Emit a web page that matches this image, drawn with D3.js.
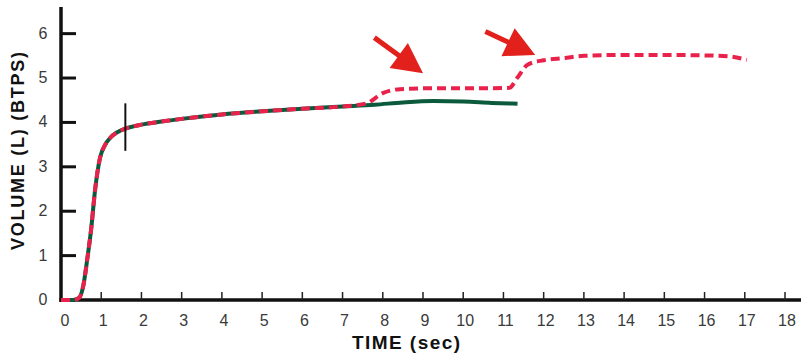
<!DOCTYPE html>
<html>
<head>
<meta charset="utf-8">
<script src="https://cdn.jsdelivr.net/npm/d3@7"></script>
<style>
body { margin: 0; background: #fff; }
svg { display: block; }
.tick-label { font-family: "Liberation Sans", Arial, sans-serif; font-size: 16px; fill: #3a3a3a; }
.axis-title { font-family: "Liberation Sans", Arial, sans-serif; font-weight: bold; fill: #111; }
</style>
</head>
<body>
<svg id="chart" width="801" height="353"></svg>
<script>
// normal expiration (green) and the repeated effort (red dashes)
var greenTime = [0, 0.3, 0.45, 0.55, 0.65, 0.75, 0.85, 0.97, 1.1, 1.22, 1.4, 1.6, 2.0, 2.5, 3, 4, 5, 6, 7, 7.8, 8.5, 9.25, 10, 10.7, 11.35];
var greenVolume = [0, 0, 0.05, 0.3, 0.9, 1.6, 2.5, 3.2, 3.5, 3.65, 3.78, 3.86, 3.95, 4.02, 4.08, 4.18, 4.25, 4.31, 4.36, 4.4, 4.45, 4.48, 4.47, 4.44, 4.42];

var redTime = [0, 0.3, 0.45, 0.55, 0.65, 0.75, 0.85, 0.97, 1.1, 1.22, 1.4, 1.6, 2.0, 2.5, 3, 4, 5, 6, 7, 7.6, 8.0, 8.43, 9.25, 10.5, 11.15, 11.34, 11.6, 12.0, 12.5, 13, 14, 15, 16, 16.6, 17.05];
var redVolume = [0, 0, 0.05, 0.3, 0.9, 1.6, 2.5, 3.2, 3.5, 3.65, 3.78, 3.86, 3.95, 4.02, 4.08, 4.18, 4.25, 4.31, 4.36, 4.43, 4.66, 4.75, 4.77, 4.77, 4.78, 5.0, 5.3, 5.4, 5.45, 5.5, 5.52, 5.52, 5.51, 5.49, 5.41];

var xTicks = [0, 1, 2, 3, 4, 5, 6, 7, 8, 9, 10, 11, 12, 13, 14, 15, 16, 17, 18];
var yTicks = [0, 1, 2, 3, 4, 5, 6];

// marker on the curve and the two arrows (start -> tip, in data units)
var markerTime = 1.6;
var markerRange = [3.36, 4.43];
var arrows = [
    { from: [7.79, 5.91], to: [9.0, 5.11] },
    { from: [10.55, 6.05], to: [11.79, 5.52] }
];

var GREEN = '#0c5a3e';
var RED = '#e8224a';
var ARROW_RED = '#e2201c';

function main() {
    var svg = d3.select('#chart');

    var x = d3.scaleLinear().domain([0, 18]).range([61, 785]);
    var y = d3.scaleLinear().domain([0, 6.6]).range([300, 7]);

    // axes
    svg.append('line')
        .attr('x1', x(0)).attr('x2', x(0))
        .attr('y1', y(6.6)).attr('y2', y(0) + 2)
        .attr('stroke', '#111').attr('stroke-width', 3.5);
    svg.append('line')
        .attr('x1', x(0) - 1.5).attr('x2', 801)
        .attr('y1', y(0)).attr('y2', y(0))
        .attr('stroke', '#111').attr('stroke-width', 3.5);

    svg.selectAll('.ytick').data(yTicks.slice(1)).enter().append('line')
        .attr('class', 'ytick')
        .attr('x1', x(0)).attr('x2', x(0) + 15)
        .attr('y1', function(d) { return y(d); })
        .attr('y2', function(d) { return y(d); })
        .attr('stroke', '#111').attr('stroke-width', 3);

    svg.selectAll('.xtick').data(xTicks.slice(1)).enter().append('line')
        .attr('class', 'xtick')
        .attr('x1', function(d) { return x(d); })
        .attr('x2', function(d) { return x(d); })
        .attr('y1', y(0)).attr('y2', y(0) - 8)
        .attr('stroke', '#222').attr('stroke-width', 1.5);

    svg.selectAll('.ylab').data(yTicks).enter().append('text')
        .attr('class', 'tick-label')
        .attr('x', 43)
        .attr('y', function(d) { return y(d) + 5; })
        .attr('text-anchor', 'middle')
        .text(function(d) { return d; });

    svg.selectAll('.xlab').data(xTicks).enter().append('text')
        .attr('class', 'tick-label')
        .attr('x', function(d) { return d === 0 ? x(d) + 4 : x(d) + 2; })
        .attr('y', 326)
        .attr('text-anchor', 'middle')
        .text(function(d) { return d; });

    svg.append('text')
        .attr('class', 'axis-title')
        .attr('x', 406).attr('y', 349)
        .attr('text-anchor', 'middle')
        .attr('font-size', 19)
        .attr('textLength', 108)
        .text('TIME (sec)');

    svg.append('text')
        .attr('class', 'axis-title')
        .attr('transform', 'translate(24,151) rotate(-90)')
        .attr('text-anchor', 'middle')
        .attr('font-size', 18)
        .attr('textLength', 198)
        .text('VOLUME (L) (BTPS)');

    // curves
    var line = d3.line()
        .x(function(d) { return x(d[0]); })
        .y(function(d) { return y(d[1]); })
        .curve(d3.curveMonotoneX);

    svg.append('path')
        .datum(d3.zip(greenTime, greenVolume))
        .attr('d', line)
        .attr('fill', 'none')
        .attr('stroke', GREEN)
        .attr('stroke-width', 4);

    svg.append('path')
        .datum(d3.zip(redTime, redVolume))
        .attr('d', line)
        .attr('fill', 'none')
        .attr('stroke', RED)
        .attr('stroke-width', 4)
        .attr('stroke-dasharray', '9,5');

    svg.append('line')
        .attr('x1', x(markerTime)).attr('x2', x(markerTime))
        .attr('y1', y(markerRange[1])).attr('y2', y(markerRange[0]))
        .attr('stroke', '#111').attr('stroke-width', 2);

    // arrows
    arrows.forEach(function(a) {
        var x0 = x(a.from[0]), y0 = y(a.from[1]);
        var x1 = x(a.to[0]), y1 = y(a.to[1]);
        var dx = x1 - x0, dy = y1 - y0;
        var len = Math.sqrt(dx * dx + dy * dy);
        var ux = dx / len, uy = dy / len;
        var headLen = 30, half = 15.5;
        var bx = x1 - ux * headLen, by = y1 - uy * headLen;

        svg.append('line')
            .attr('x1', x0).attr('y1', y0)
            .attr('x2', bx + ux * 4).attr('y2', by + uy * 4)
            .attr('stroke', ARROW_RED).attr('stroke-width', 5);

        svg.append('polygon')
            .attr('points', [
                [x1, y1],
                [bx - uy * half, by + ux * half],
                [bx + uy * half, by - ux * half]
            ].map(function(p) { return p.join(','); }).join(' '))
            .attr('fill', ARROW_RED);
    });
}

main();
</script>
</body>
</html>
